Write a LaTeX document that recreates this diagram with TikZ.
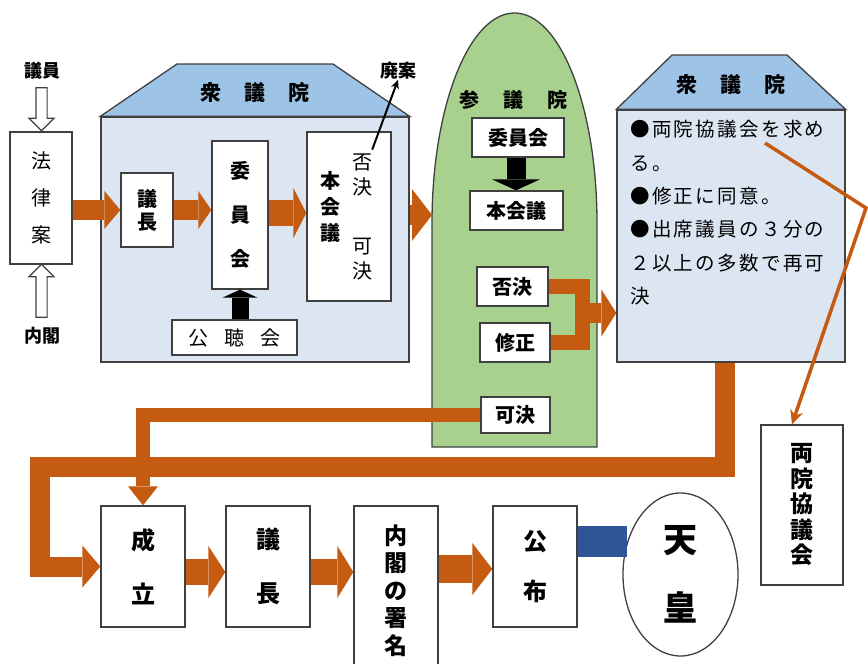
\documentclass[tikz,border=0pt]{standalone}
\usepackage{fontspec}
\setmainfont{Noto Sans CJK JP}
\usetikzlibrary{arrows.meta,shapes.geometric,shapes.arrows,calc}
\definecolor{org}{HTML}{C55A11}
\definecolor{bodyblue}{HTML}{DCE6F3}
\definecolor{roofblue}{HTML}{9DC3E6}
\definecolor{grn}{HTML}{A9D18E}
\definecolor{navy}{HTML}{2F5597}
\definecolor{edge}{HTML}{404040}
\begin{document}
\begin{tikzpicture}[x=1pt,y=-1pt,
  box/.style={draw=edge, line width=1.3pt, fill=white, inner sep=0pt},
  housebody/.style={draw=edge, line width=1.3pt, fill=bodyblue, inner sep=0pt},
  roof/.style={draw=edge, line width=1.3pt, fill=roofblue},
  lbl/.style={inner sep=0pt, align=center},
  fatarrow/.style args={#1/#2/#3}{draw=org, line width=#1, -{Triangle[width=#2, length=#3, line width=0pt]}},
  blackarrow/.style args={#1/#2/#3}{draw=black, line width=#1, -{Triangle[width=#2, length=#3, line width=0pt]}},
  hollow/.style={single arrow, draw=edge, line width=1.2pt, fill=white, inner sep=5pt, single arrow head extend=7pt, single arrow tip angle=90}
]
\useasboundingbox (0,0) rectangle (868,664);
\fill[white] (0,0) rectangle (868,664);

% ---------- left side ----------
\node[lbl, font=\bfseries\fontsize{18}{20}\selectfont] (giin) at (42,71) {議員};
\node[lbl, font=\bfseries\fontsize{18}{20}\selectfont] (naikaku) at (42,336) {内閣};
\node[box, minimum width=62pt, minimum height=132pt, align=center, font=\fontsize{20}{37}\selectfont] (houan) at (41,198) {法\\律\\案};
\node[hollow, shape border rotate=270, minimum height=43pt, minimum width=25pt] (ar1) at (41.5,106.5) {};
\node[hollow, shape border rotate=90, minimum height=53pt, minimum width=25pt] (ar2) at (41.5,293.5) {};

% ---------- left house ----------
\node[housebody, minimum width=308pt, minimum height=245pt] (sh1) at (255,239.5) {};
\draw[roof] (sh1.north west) -- (177,64) -- (333,64) -- (sh1.north east) -- cycle;
\node[lbl, font=\bfseries\fontsize{21}{22}\selectfont] (sh1t) at (255,93) {衆\hspace{23pt}議\hspace{23pt}院};

\node[box, minimum width=52pt, minimum height=74pt, align=center, font=\bfseries\fontsize{20}{23}\selectfont] (gi1) at (147,210) {議\\長};
\node[box, minimum width=56pt, minimum height=148pt, align=center, font=\bfseries\fontsize{20}{44}\selectfont] (iin) at (240,215) {委\\員\\会};
\node[box, minimum width=84pt, minimum height=169pt] (hon) at (349,216.5) {};
\node[lbl, font=\bfseries\fontsize{20}{26}\selectfont] (honT) at (330,207) {本\\会\\議};
\node[lbl, font=\fontsize{20}{25}\selectfont] (hk1) at (362,175) {否\\決};
\node[lbl, font=\fontsize{20}{25}\selectfont] (kk1) at (362,259) {可\\決};
\node[box, minimum width=125pt, minimum height=35pt, font=\fontsize{20}{22}\selectfont] (kc) at (234.5,337.5) {公\hspace{16pt}聴\hspace{16pt}会};
\node[lbl, font=\bfseries\fontsize{18}{20}\selectfont] (haian) at (398,71) {廃案};

\draw[fatarrow={20pt/38pt/16pt}] (houan.east |- gi1.west) -- (gi1.west);
\draw[fatarrow={20pt/38pt/13pt}] (gi1.east) -- (gi1.east -| iin.west);
\draw[fatarrow={26pt/50pt/13pt}] (iin.east |- 0,213) -- (hon.west |- 0,213);
\draw[blackarrow={17pt/35pt/8pt}] (iin.south |- kc.north) -- (iin.south);
\draw[line width=2pt, -{Stealth[length=9pt,width=8pt]}] ($(hk1.north east)+(0,-4)$) -- (haian.south);

% ---------- 参議院 ----------
\path[draw=edge, fill=grn, line width=1.3pt] (432,447) -- (432,223) arc[start angle=180, end angle=0, x radius=82.5pt, y radius=210pt] -- (597,447) -- cycle;
\coordinate (sanL) at (432,215);
\draw[fatarrow={20pt/52pt/20pt}] (sh1.east |- sanL) -- (sanL);
\node[lbl, font=\bfseries\fontsize{20}{22}\selectfont] (sant) at (513,100) {参\hspace{24pt}議\hspace{24pt}院};
\node[box, minimum width=92pt, minimum height=39pt, font=\bfseries\fontsize{20}{22}\selectfont] (sin) at (518,137.5) {委員会};
\node[box, minimum width=93pt, minimum height=39pt, font=\bfseries\fontsize{20}{22}\selectfont] (shon) at (516.5,210.5) {本会議};
\node[box, minimum width=71pt, minimum height=39pt, font=\bfseries\fontsize{20}{22}\selectfont] (shk) at (512.5,286.5) {否決};
\node[box, minimum width=70pt, minimum height=39pt, font=\bfseries\fontsize{20}{22}\selectfont] (ssh) at (515,342.5) {修正};
\node[box, minimum width=69pt, minimum height=36pt, font=\bfseries\fontsize{20}{22}\selectfont] (ska) at (515.5,415) {可決};
\draw[blackarrow={19pt/48pt/11pt}] (sin.south -| 516,0) -- (shon.north -| 516,0);

% ---------- right house ----------
\node[housebody, minimum width=228pt, minimum height=252pt] (sr) at (731,236) {};
\draw[roof] (sr.north west) -- (672,55) -- (787,55) -- (sr.north east) -- cycle;
\node[lbl, font=\bfseries\fontsize{21}{22}\selectfont] (srt) at (731,85) {衆\hspace{23pt}議\hspace{23pt}院};
\node[inner sep=0pt, anchor=north west, align=left, font=\fontsize{19.5}{33.4}\selectfont\addfontfeature{LetterSpace=12}] (srtext) at (630,120)
  {●両院協議会を求め\\る。\\●修正に同意。\\●出席議員の３分の\\２以上の多数で再可\\決};

\coordinate (mg) at (582.5,313);
\draw[draw=org, line width=15pt] (shk.east) -| (mg) |- (ssh.east);
\draw[fatarrow={20pt/47pt/15pt}] ($(mg)+(-7.5,0)$) -- (sr.west |- mg);

% ---------- bottom row ----------
\node[box, minimum width=84pt, minimum height=121pt, align=center, font=\bfseries\fontsize{24}{54}\selectfont] (sei) at (143,566.5) {成\\立};
\node[box, minimum width=84pt, minimum height=121pt, align=center, font=\bfseries\fontsize{24}{54}\selectfont] (gi2) at (268,566.5) {議\\長};
\node[box, minimum width=84pt, minimum height=169pt, align=center, font=\bfseries\fontsize{23}{27.5}\selectfont] (nai) at (396,590.5) {内\\閣\\の\\署\\名};
\node[box, minimum width=84pt, minimum height=121pt, align=center, font=\bfseries\fontsize{24}{50}\selectfont] (kou) at (535,566.5) {公\\布};
\node[box, minimum width=82pt, minimum height=160pt, align=center, font=\bfseries\fontsize{23}{25.5}\selectfont] (ryo) at (802,505) {両\\院\\協\\議\\会};
\node[box, ellipse, minimum width=115pt, minimum height=163pt, align=center, font=\bfseries\fontsize{34}{68}\selectfont] (ten) at (680.5,574.5) {天\\皇};

\draw[draw=navy, line width=31pt] (kou.east |- ten.148) -- (ten.148);

\draw[fatarrow={26pt/52pt/17pt}] ($(sei.east)+(0,5.5)$) -- ($(sei.east -| gi2.west)+(0,5.5)$);
\draw[fatarrow={26pt/52pt/16pt}] ($(gi2.east)+(0,5.5)$) -- ($(gi2.east -| nai.west)+(0,5.5)$);
\draw[fatarrow={28pt/52pt/20pt}] ($(nai.east |- kou.west)+(0,2.5)$) -- ($(kou.west)+(0,2.5)$);

% long return paths
\draw[fatarrow={20pt/42pt/18pt}] (sr.south -| 724.5,0) |- (40,466.5) |- (sei.west);
\draw[fatarrow={14pt/30pt/19pt}] (ska.west) -| (sei.north);

% thin arrow to 両院協議会
\coordinate (c1) at (765,143);
\coordinate (c2) at (866,208);
\draw[draw=org, line width=3.5pt, line join=miter, -{Stealth[length=14pt,width=13pt]}] (c1) -- (c2) -- ($(ryo.north)+(-10,0)$);
\end{tikzpicture}
\end{document}
